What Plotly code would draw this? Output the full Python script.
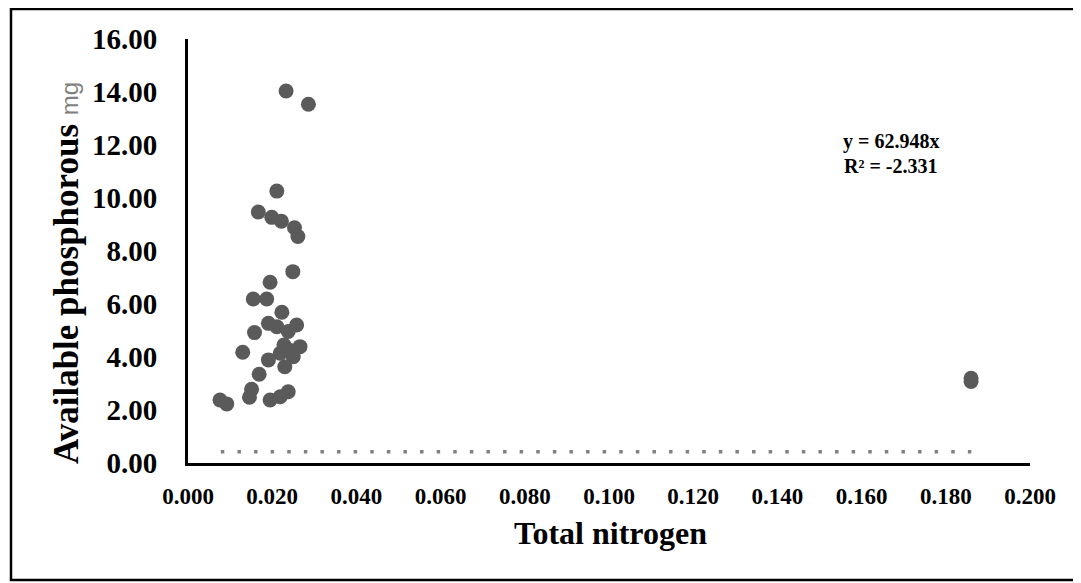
import plotly.graph_objects as go

# Data
total_nitrogen = [0.0233, 0.0286, 0.0211, 0.0167, 0.0199, 0.0222, 0.0253, 0.0261,
                  0.0249, 0.0195, 0.0155, 0.0187, 0.0223, 0.0191, 0.0211, 0.0238,
                  0.0258, 0.0158, 0.0130, 0.0266, 0.0250, 0.0219, 0.0191, 0.0230,
                  0.0169, 0.0151, 0.0146, 0.0076, 0.0092, 0.0195, 0.0219, 0.0238,
                  0.0243, 0.0228, 0.1860, 0.1860]
available_phosphorous = [14.04, 13.54, 10.26, 9.47, 9.27, 9.12, 8.88, 8.55,
                         7.22, 6.82, 6.19, 6.19, 5.69, 5.27, 5.14, 4.96,
                         5.21, 4.92, 4.18, 4.39, 4.01, 4.14, 3.89, 3.63,
                         3.35, 2.78, 2.48, 2.38, 2.23, 2.38, 2.50, 2.69,
                         4.25, 4.45, 3.20, 3.08]

trend_x = [0.0078, 0.1868]
trend_y = [0.42, 0.42]

x_ticks = [0.0, 0.02, 0.04, 0.06, 0.08, 0.10, 0.12, 0.14, 0.16, 0.18, 0.20]
x_tick_labels = ["0.000", "0.020", "0.040", "0.060", "0.080", "0.100",
                 "0.120", "0.140", "0.160", "0.180", "0.200"]
y_ticks = [0, 2, 4, 6, 8, 10, 12, 14, 16]
y_tick_labels = ["0.00", "2.00", "4.00", "6.00", "8.00", "10.00",
                 "12.00", "14.00", "16.00"]

OFF = 8  # page body margin
W, H = 1081 - OFF, 583 - OFF
L, R, T, B = 188 - OFF, 1081 - 1030, 39 - OFF, 583 - 463
pw, ph = W - L - R, H - T - B

def px(x):
    return (x - OFF - L) / pw

def py(y):
    return (H - B - (y - OFF)) / ph

serif = "Liberation Serif, Times New Roman, serif"

fig = go.Figure()
fig.add_trace(go.Scatter(
    x=trend_x, y=trend_y, mode="lines",
    line=dict(color="#808080", width=3.5, dash="3.5px,13.1px"),
    hoverinfo="skip", showlegend=False))
fig.add_trace(go.Scatter(
    x=total_nitrogen, y=available_phosphorous, mode="markers",
    marker=dict(color="#5a5a5a", size=15, line=dict(width=0)),
    showlegend=False))

fig.update_layout(
    width=W, height=H,
    margin=dict(l=L, r=R, t=T, b=B, autoexpand=False),
    paper_bgcolor="white", plot_bgcolor="white",
    font=dict(family=serif, color="black"),
    xaxis=dict(range=[0, 0.2], tickvals=x_ticks, ticktext=x_tick_labels,
               showgrid=False, zeroline=False, showline=True, linecolor="black",
               linewidth=3, ticks="", ticklabelstandoff=10,
               tickfont=dict(family=serif, size=23, color="black", weight="bold")),
    yaxis=dict(range=[0, 16], tickvals=y_ticks, ticktext=y_tick_labels,
               showgrid=False, zeroline=False, showline=True, linecolor="black",
               linewidth=3, ticks="", ticklabelstandoff=22,
               tickfont=dict(family=serif, size=29, color="black", weight="bold")),
    shapes=[dict(type="rect", xref="paper", yref="paper",
                 x0=px(11), x1=px(1077), y0=py(9), y1=py(580),
                 line=dict(color="black", width=2.5), layer="below")],
    annotations=[
        dict(xref="paper", yref="paper", x=px(610), y=py(533),
             text="<b>Total nitrogen</b>", showarrow=False,
             font=dict(family=serif, size=32, color="black"),
             xanchor="center", yanchor="middle"),
        dict(xref="paper", yref="paper", x=px(66), y=py(273),
             text="<b>Available phosphorous</b> <span style='font-family:Liberation Sans, Arial, sans-serif;font-size:24px;color:#7f7f7f;font-weight:normal'>mg</span>",
             showarrow=False, textangle=-90,
             font=dict(family=serif, size=35, color="black"),
             xanchor="center", yanchor="middle"),
        dict(xref="paper", yref="paper", x=px(891), y=py(141),
             text="<b>y = 62.948x</b>", showarrow=False,
             font=dict(family=serif, size=20, color="black"),
             xanchor="center", yanchor="middle"),
        dict(xref="paper", yref="paper", x=px(891), y=py(166),
             text="<b>R² = -2.331</b>", showarrow=False,
             font=dict(family=serif, size=20, color="black"),
             xanchor="center", yanchor="middle"),
    ],
)

fig.write_html("out.html")
